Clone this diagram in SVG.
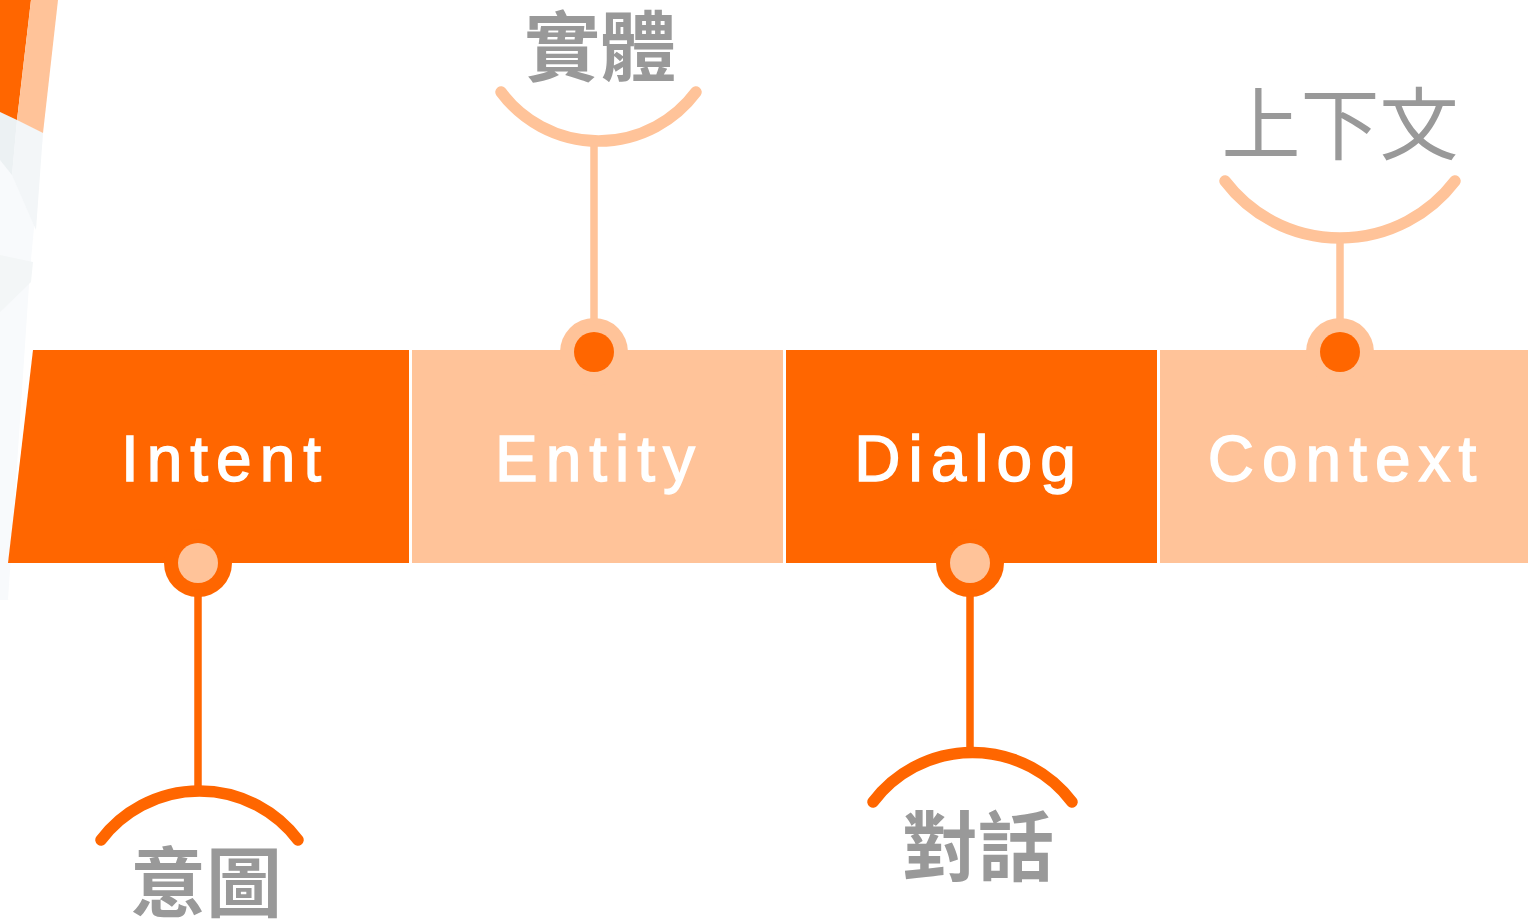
<svg xmlns="http://www.w3.org/2000/svg" width="1528" height="922" viewBox="0 0 1528 922">
  <defs>
    <style>
      .orange { fill: #FF6600; }
      .peach { fill: #FFC399; }
      .label { font-family: "Liberation Sans", Arial, sans-serif; font-size: 64px; fill: #FFFFFF; stroke: #FFFFFF; stroke-width: 1.4px; letter-spacing: 8px; text-anchor: middle; }
      .cjk { font-family: "Noto Sans CJK TC", "Noto Sans CJK JP", sans-serif; font-size: 76px; font-weight: 700; fill: #999999; text-anchor: middle; }
      .cjk-light { font-family: "Noto Sans CJK JP", "Noto Sans CJK TC", sans-serif; font-size: 79px; font-weight: 400; fill: #999999; text-anchor: middle; }
      .stem-peach { stroke: #FFC399; stroke-width: 7.5; fill: none; }
      .stem-orange { stroke: #FF6600; stroke-width: 7.5; fill: none; }
      .arc-peach { stroke: #FFC399; stroke-width: 11.5; fill: none; stroke-linecap: round; }
      .arc-orange { stroke: #FF6600; stroke-width: 11.5; fill: none; stroke-linecap: round; }
    </style>
  </defs>
  <rect x="0" y="0" width="1528" height="922" fill="#FFFFFF"/>

  <g id="decoration">
    <polygon points="0,112 43,133 30,270 8,600 0,600" fill="#F8FAFC"/>
    <polygon points="0,112 17,120 12,175 0,160" fill="#ECF1F3"/>
    <polygon points="17,120 43,133 36,230 12,175" fill="#F3F6F8"/>
    <polygon points="0,255 33,262 31,282 0,312" fill="#F3F6F7"/>
    <polygon points="0,0 31,0 17,120 0,112" fill="#FF6600"/>
    <polygon points="31,0 58,0 43,133 17,120" fill="#FFC399"/>
  </g>

  <g id="connectors">
    <line class="stem-peach" x1="594" y1="141" x2="594" y2="330"/>
    <path class="arc-peach" d="M501,92 A121.5,121.5 0 0 0 696,92"/>
    <line class="stem-peach" x1="1340" y1="237" x2="1340" y2="330"/>
    <path class="arc-peach" d="M1225,181 A144.5,144.5 0 0 0 1455,181"/>
    <line class="stem-orange" x1="198" y1="580" x2="198" y2="791"/>
    <path class="arc-orange" d="M101,840 A123.5,123.5 0 0 1 298,840"/>
    <line class="stem-orange" x1="970" y1="580" x2="970" y2="752"/>
    <path class="arc-orange" d="M873,802 A124.7,124.7 0 0 1 1072,802"/>
  </g>

  <g id="intent">
    <polygon class="orange" points="33,350 409,350 409,563 8,563"/>
    <circle class="orange" cx="198" cy="563" r="34"/>
    <circle class="peach" cx="198" cy="563" r="20"/>
    <text class="label" x="225" y="481">Intent</text>
    <text class="cjk" x="206" y="911">意圖</text>
  </g>

  <g id="entity">
    <rect class="peach" x="412" y="350" width="371" height="213"/>
    <circle class="peach" cx="594" cy="352" r="34"/>
    <circle class="orange" cx="594" cy="352" r="20"/>
    <text class="label" x="599" y="481">Entity</text>
    <text class="cjk" x="600" y="75">實體</text>
  </g>

  <g id="dialog">
    <rect class="orange" x="786" y="350" width="371" height="213"/>
    <circle class="orange" cx="970" cy="563" r="34"/>
    <circle class="peach" cx="970" cy="563" r="20"/>
    <text class="label" x="969" y="481">Dialog</text>
    <text class="cjk" x="978" y="875">對話</text>
  </g>

  <g id="context">
    <rect class="peach" x="1160" y="350" width="368" height="213"/>
    <circle class="peach" cx="1340" cy="352" r="34"/>
    <circle class="orange" cx="1340" cy="352" r="20"/>
    <text class="label" x="1346" y="481">Context</text>
    <text class="cjk-light" x="1340" y="154">上下文</text>
  </g>
</svg>
